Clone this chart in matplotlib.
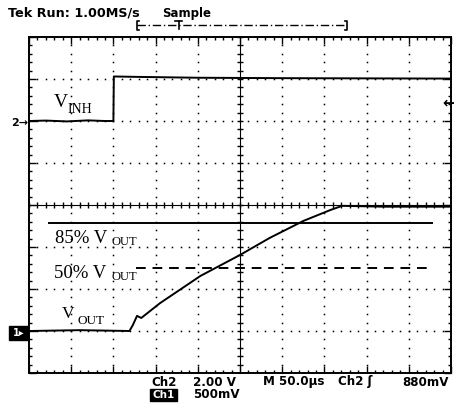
import numpy as np
import matplotlib
matplotlib.use("Agg")
import matplotlib.pyplot as plt
from matplotlib.patches import Rectangle

# ---- scope settings ----
T_DIV = 50.0        # us / div
CH1_DIV = 0.5       # V / div  (VOUT)
CH2_DIV = 2.0       # V / div  (VINH)
CH1_GND = -3        # ground marker, divisions from centre
CH2_GND = 2

# ---- traces ----
t_inh = [0, 20, 45, 70, 90, 100, 100.5, 130, 200, 300, 400, 500]
v_inh = [0, 0.02, -0.02, 0.03, 0.0, 0.0, 2.12, 2.1, 2.06, 2.04, 2.03, 2.02]

t_out = [0, 60, 119, 123, 128, 133, 155, 203, 250, 285, 325, 357, 371, 420, 500]
v_out = [0, 0.01, 0, 0.07, 0.18, 0.155, 0.33, 0.655, 0.905, 1.107, 1.31, 1.44, 1.49, 1.48, 1.48]

# reference levels (Ch1 volts) and their extent (us)
lvl_85 = 1.29
lvl_50 = 0.75
t_85 = [24, 477]
t_50 = [127, 477]

W, H = 454, 407
fig = plt.figure(figsize=(W / 100, H / 100), dpi=100)
fig.patch.set_facecolor('white')

# screen: 10 x 8 divisions
ax = fig.add_axes([29 / W, (H - 373) / H, 422 / W, 336 / H])
t0, t1 = 0, 10 * T_DIV
ax.set_xlim(t0, t1)
ch1_lo = (-4 - CH1_GND) * CH1_DIV
ch1_hi = (4 - CH1_GND) * CH1_DIV
ax.set_ylim(ch1_lo, ch1_hi)

ax2 = ax.twinx()
ax2.set_ylim((-4 - CH2_GND) * CH2_DIV, (4 - CH2_GND) * CH2_DIV)
ax2.axis('off')

for s in ax.spines.values():
    s.set_linewidth(1.4)
    s.set_color('black')
ax.set_xticks(np.arange(t0, t1 + 1, T_DIV))
ax.set_xticks(np.arange(t0, t1 + 1, T_DIV / 5), minor=True)
ax.set_yticks(np.arange(ch1_lo, ch1_hi + 0.01, CH1_DIV))
ax.set_yticks(np.arange(ch1_lo, ch1_hi + 0.01, CH1_DIV / 5), minor=True)
ax.tick_params(which='both', direction='in', top=True, right=True,
               labelbottom=False, labelleft=False, color='black', width=1)
ax.tick_params(which='major', length=5)
ax.tick_params(which='minor', length=2.5)

# dotted graticule
t_mid = (t0 + t1) / 2
v_mid = (ch1_lo + ch1_hi) / 2
dots_t = np.arange(t0, t1 + 0.1, T_DIV / 5)
dots_v = np.arange(ch1_lo, ch1_hi + 0.01, CH1_DIV / 5)
for k in range(1, 10):
    tx = t0 + k * T_DIV
    if tx == t_mid:
        continue
    ax.plot([tx] * len(dots_v), dots_v, ls='none', marker='s', ms=1.1,
            mew=0, color='black')
for k in range(1, 8):
    vy = ch1_lo + k * CH1_DIV
    if abs(vy - v_mid) < 1e-6:
        continue
    ax.plot(dots_t, [vy] * len(dots_t), ls='none', marker='s', ms=1.1,
            mew=0, color='black')

# centre cross with ticks
ax.axhline(v_mid, color='black', lw=0.8)
ax.axvline(t_mid, color='black', lw=0.8)
ax.plot(dots_t, [v_mid] * len(dots_t), ls='none', marker='|', ms=5,
        mew=1, color='black')
ax.plot([t_mid] * len(dots_v), dots_v, ls='none', marker='_', ms=5,
        mew=1, color='black')

# traces
ax2.plot(t_inh, v_inh, color='black', lw=1.4)
ax.plot(t_out, v_out, color='black', lw=1.4)
ax.plot(t_85, [lvl_85] * 2, color='black', lw=1.4)
ax.plot(t_50, [lvl_50] * 2, color='black', lw=1.4, dashes=(5, 3.5))

# ---- overlay in pixel coordinates for screen annotations ----
ov = fig.add_axes([0, 0, 1, 1])
ov.set_xlim(0, W)
ov.set_ylim(H, 0)
ov.axis('off')
ov.patch.set_alpha(0)

bold = dict(family='DejaVu Sans', weight='bold', color='black')
ov.text(8, 13, 'Tek Run: 1.00MS/s', fontsize=9.2, ha='left', va='center', **bold)
ov.text(162, 13, 'Sample', fontsize=8.5, ha='left', va='center', **bold)

# record bracket
ov.plot([137, 347], [25, 25], color='black', lw=1, dashes=(6, 2, 1, 2))
ov.plot([139, 137, 137, 139], [21, 21, 30, 30], color='black', lw=1.2)
ov.plot([345, 347, 347, 345], [21, 21, 30, 30], color='black', lw=1.2)
ov.plot([175, 182], [21, 21], color='black', lw=1.2)
ov.plot([178.5, 178.5], [21, 29], color='black', lw=1.2)

# channel markers
ov.text(28, 123, '2\u2192', fontsize=8, ha='right', va='center', **bold)
ov.add_patch(Rectangle((9, 326), 19, 14, color='black'))
ov.text(18.5, 333, '1\u25b8', fontsize=7, ha='center', va='center',
        family='DejaVu Sans', weight='bold', color='white')
ov.text(455, 103, '\u2190', fontsize=11, ha='right', va='center', **bold)

# signal labels
serif = dict(family='Liberation Serif', color='black', va='baseline')
ov.text(54, 107, 'V', fontsize=14, **serif)
ov.text(68, 113, 'INH', fontsize=10, **serif)
ov.text(62, 318, 'V', fontsize=12.5, **serif)
ov.text(77, 324, 'OUT', fontsize=9.5, **serif)
ov.text(55, 243, '85% V', fontsize=13.5, **serif)
ov.text(112, 245, 'OUT', fontsize=9, **serif)
ov.text(54, 278, '50% V', fontsize=13.5, **serif)
ov.text(111, 280, 'OUT', fontsize=9, **serif)

# bottom readout
ov.text(151, 382, 'Ch2', fontsize=8.6, ha='left', va='center', **bold)
ov.text(193, 382, '2.00 V', fontsize=8.6, ha='left', va='center', **bold)
ov.text(263, 382, 'M 50.0\u00b5s', fontsize=8.6, ha='left', va='center', **bold)
ov.text(338, 382, 'Ch2 \u0283', fontsize=8.6, ha='left', va='center', **bold)
ov.text(449, 382, '880mV', fontsize=8.6, ha='right', va='center', **bold)
ov.add_patch(Rectangle((150, 389), 27, 12, color='black'))
ov.text(163.5, 395, 'Ch1', fontsize=7.5, ha='center', va='center',
        family='DejaVu Sans', weight='bold', color='white')
ov.text(193, 395, '500mV', fontsize=8.6, ha='left', va='center', **bold)

fig.savefig('out.png', dpi=100)
